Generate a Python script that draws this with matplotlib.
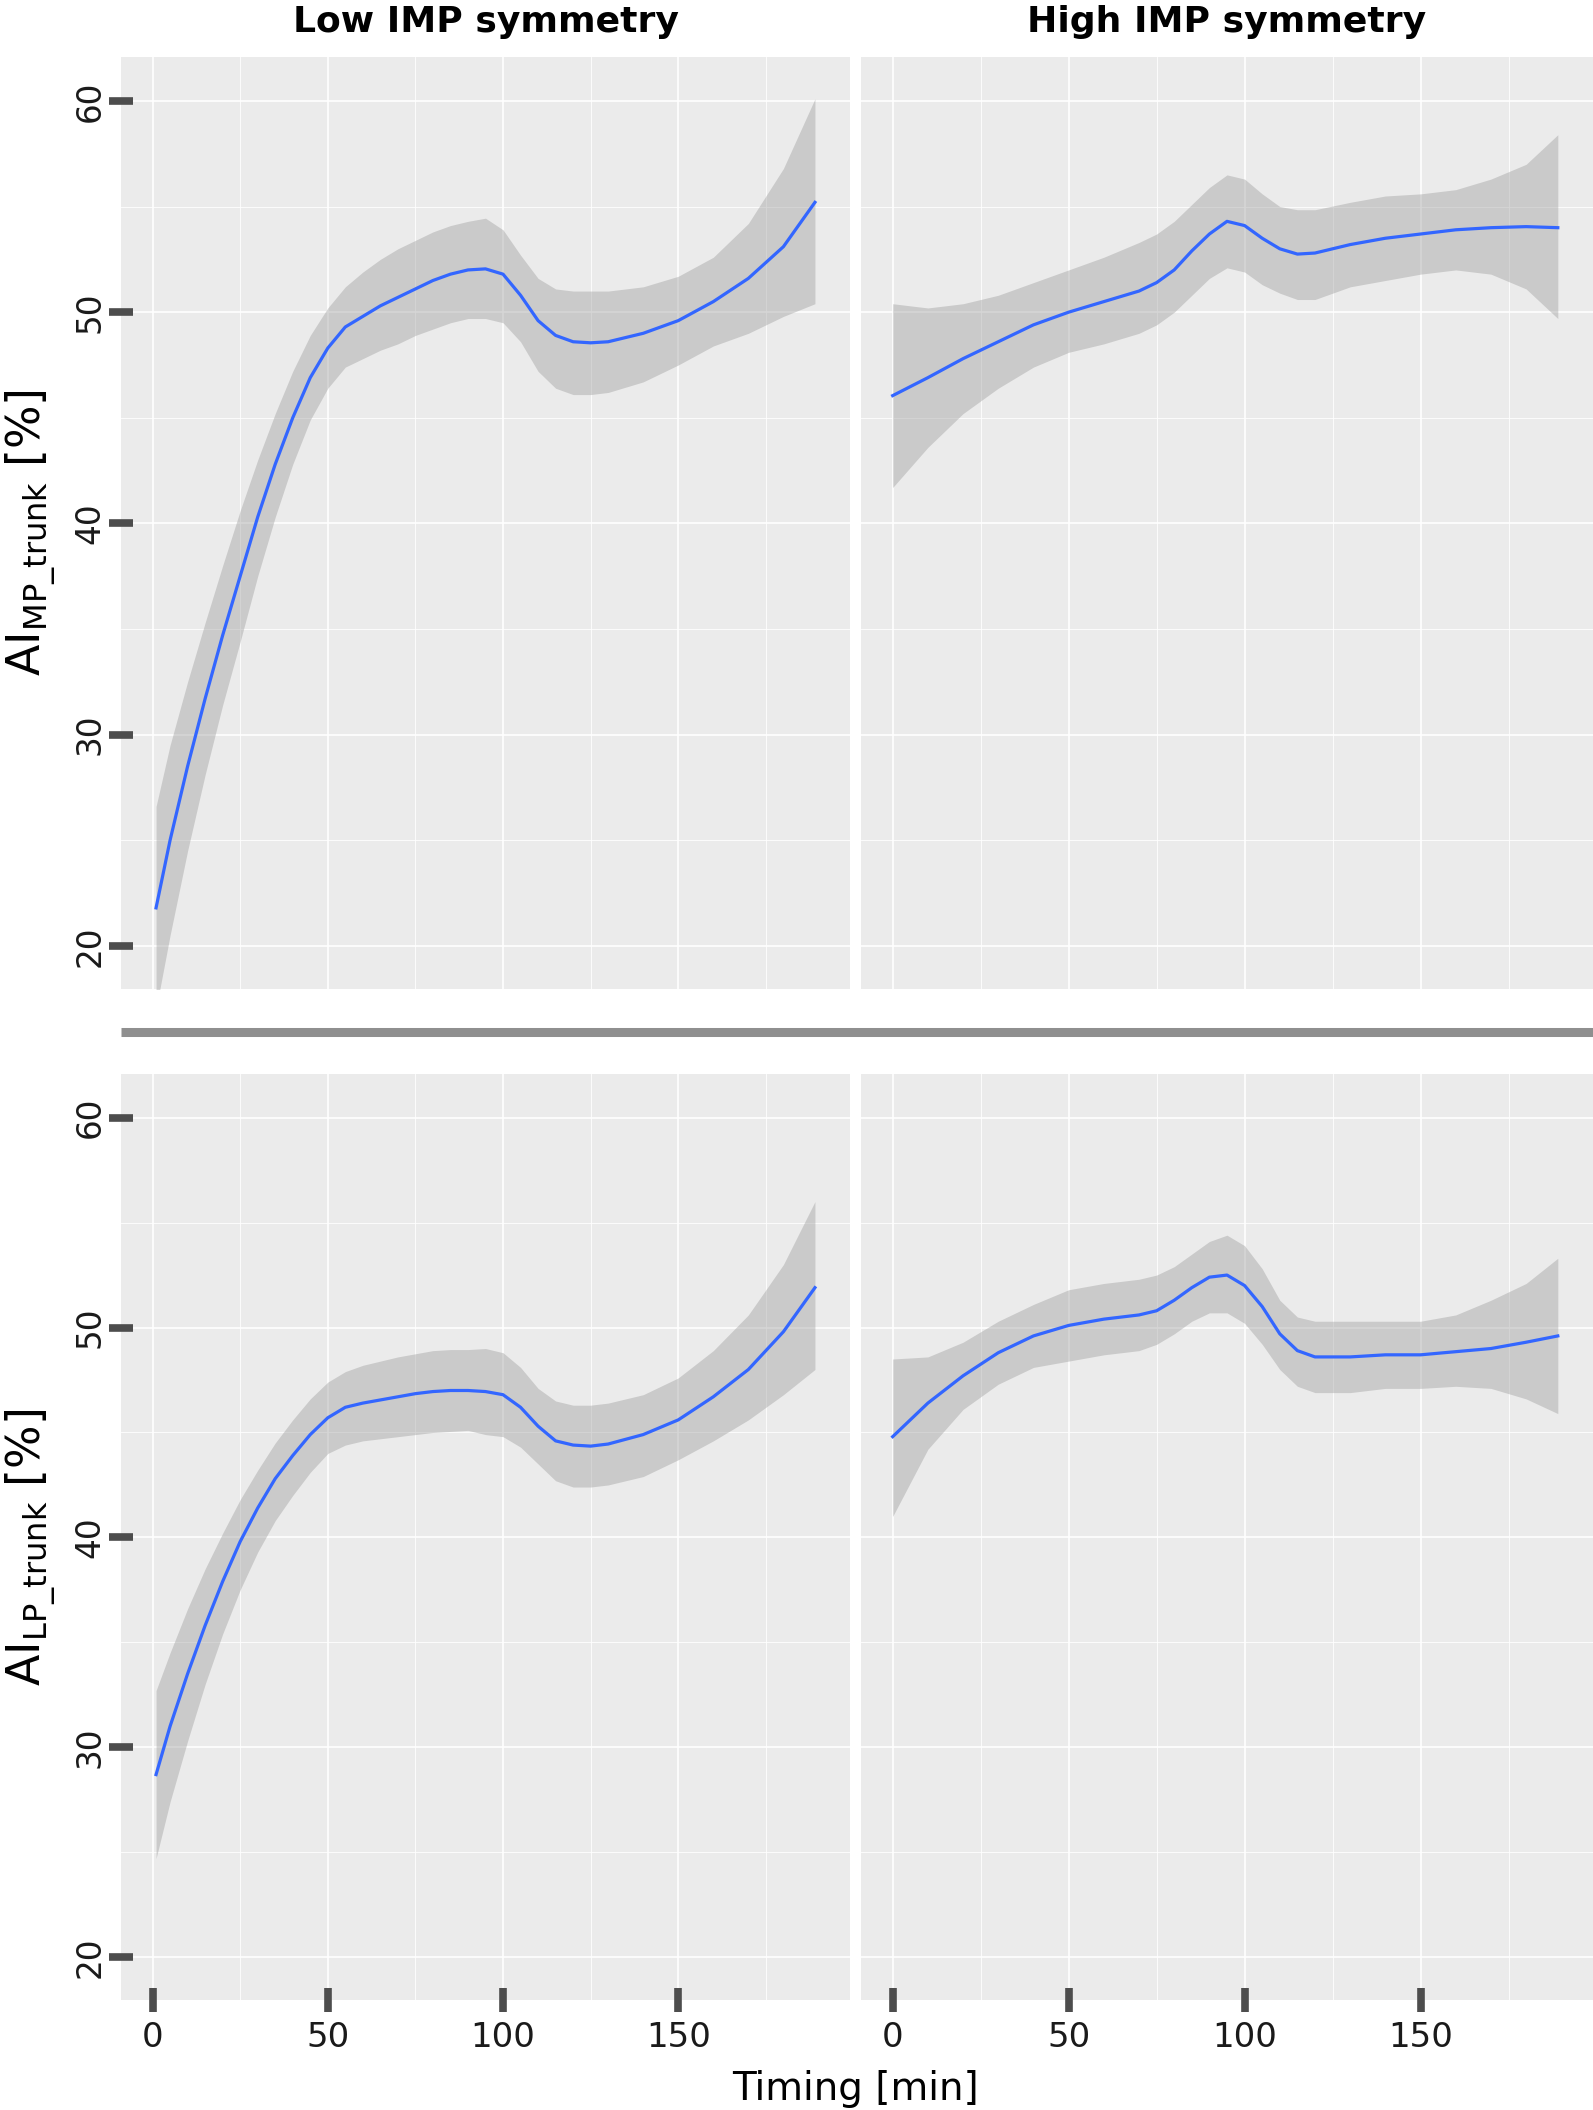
import matplotlib
matplotlib.use("Agg")
import matplotlib.pyplot as plt

# values: time [min], smooth fit, ribbon upper / lower
mp_low_t = [1, 5, 10, 15, 20, 25, 30, 35, 40, 45, 50, 55, 60, 65, 70, 75, 80, 85, 90, 95,
            100, 105, 110, 115, 120, 125, 130, 140, 150, 160, 170, 180, 189]
mp_low_fit = [21.8, 25.0, 28.5, 31.7, 34.7, 37.5, 40.3, 42.8, 45.0, 46.9, 48.3, 49.3, 49.8, 50.3,
              50.7, 51.1, 51.5, 51.8, 52.0, 52.05, 51.8, 50.8, 49.6, 48.9, 48.6, 48.55, 48.6, 49.0,
              49.6, 50.5, 51.6, 53.1, 55.2]
mp_low_hi = [26.6, 29.5, 32.5, 35.3, 38.0, 40.6, 43.0, 45.2, 47.2, 48.9, 50.2, 51.2, 51.9, 52.5,
             53.0, 53.4, 53.8, 54.1, 54.3, 54.45, 53.9, 52.7, 51.6, 51.1, 51.0, 51.0, 51.0, 51.2,
             51.7, 52.6, 54.2, 56.8, 60.1]
mp_low_lo = [17.0, 20.5, 24.5, 28.1, 31.4, 34.4, 37.5, 40.3, 42.8, 44.9, 46.4, 47.4, 47.8, 48.2,
             48.5, 48.9, 49.2, 49.5, 49.7, 49.7, 49.5, 48.6, 47.2, 46.4, 46.1, 46.1, 46.2, 46.7,
             47.5, 48.4, 49.0, 49.8, 50.4]

mp_high_t = [0, 10, 20, 30, 40, 50, 60, 70, 75, 80, 85, 90, 95, 100, 105, 110, 115, 120,
             130, 140, 150, 160, 170, 180, 189]
mp_high_fit = [46.05, 46.9, 47.8, 48.6, 49.4, 50.0, 50.5, 51.0, 51.4, 52.0, 52.9, 53.7, 54.3,
               54.1, 53.5, 53.0, 52.75, 52.8, 53.2, 53.5, 53.7, 53.9, 54.0, 54.05, 54.0]
mp_high_hi = [50.4, 50.2, 50.4, 50.8, 51.4, 52.0, 52.6, 53.3, 53.7, 54.3, 55.1, 55.9, 56.5,
              56.3, 55.6, 55.0, 54.85, 54.85, 55.2, 55.5, 55.6, 55.8, 56.3, 57.0, 58.4]
mp_high_lo = [41.7, 43.6, 45.2, 46.4, 47.4, 48.1, 48.5, 49.0, 49.4, 50.0, 50.8, 51.6, 52.1,
              51.9, 51.3, 50.9, 50.6, 50.6, 51.2, 51.5, 51.8, 52.0, 51.8, 51.1, 49.7]

lp_low_t = mp_low_t
lp_low_fit = [28.7, 31.0, 33.5, 35.8, 37.9, 39.8, 41.4, 42.8, 43.9, 44.9, 45.7, 46.2, 46.4, 46.55,
              46.7, 46.85, 46.95, 47.0, 47.0, 46.95, 46.8, 46.2, 45.3, 44.6, 44.4, 44.35, 44.45,
              44.9, 45.6, 46.7, 48.0, 49.8, 51.9]
lp_low_hi = [32.7, 34.5, 36.6, 38.5, 40.2, 41.8, 43.2, 44.5, 45.6, 46.6, 47.4, 47.9, 48.2, 48.4,
             48.6, 48.75, 48.9, 48.95, 48.95, 49.0, 48.8, 48.1, 47.1, 46.5, 46.3, 46.3, 46.4,
             46.8, 47.6, 48.9, 50.6, 53.0, 56.0]
lp_low_lo = [24.7, 27.4, 30.3, 33.0, 35.4, 37.5, 39.3, 40.8, 42.0, 43.1, 44.0, 44.4, 44.6, 44.7,
             44.8, 44.9, 45.0, 45.05, 45.1, 44.9, 44.8, 44.3, 43.5, 42.7, 42.4, 42.4, 42.5,
             42.9, 43.7, 44.6, 45.6, 46.8, 48.0]

lp_high_t = mp_high_t
lp_high_fit = [44.8, 46.4, 47.7, 48.8, 49.6, 50.1, 50.4, 50.6, 50.8, 51.3, 51.9, 52.4, 52.5,
               52.0, 51.0, 49.7, 48.9, 48.6, 48.6, 48.7, 48.7, 48.85, 49.0, 49.3, 49.6]
lp_high_hi = [48.5, 48.6, 49.3, 50.3, 51.1, 51.8, 52.1, 52.3, 52.5, 52.9, 53.5, 54.1, 54.4,
              53.9, 52.8, 51.3, 50.5, 50.3, 50.3, 50.3, 50.3, 50.6, 51.3, 52.1, 53.3]
lp_high_lo = [41.0, 44.2, 46.1, 47.3, 48.1, 48.4, 48.7, 48.9, 49.2, 49.7, 50.3, 50.7, 50.7,
              50.2, 49.2, 48.0, 47.2, 46.9, 46.9, 47.1, 47.1, 47.2, 47.1, 46.6, 45.9]

col_titles = ["Low IMP symmetry", "High IMP symmetry"]
row_labels = [r"AI$_{\mathregular{MP\_trunk}}$ [%]", r"AI$_{\mathregular{LP\_trunk}}$ [%]"]
x_label = "Timing [min]"
x_major = [0, 50, 100, 150]
x_minor = [25, 75, 125, 175]
y_major = [20, 30, 40, 50, 60]
y_minor = [25, 35, 45, 55]

W, H = 1593, 2110
plt.rcParams['font.family'] = 'DejaVu Sans'
plt.rcParams['mathtext.fontset'] = 'dejavusans'
fig = plt.figure(figsize=(W / 100, H / 100), dpi=100)


def rect(x0, x1, y0, y1):
    # pixel box (top-left origin) -> figure fraction
    return [x0 / W, 1 - y1 / H, (x1 - x0) / W, (y1 - y0) / H]


cols_px = [(121, 850), (861, 1593)]
rows_px = [(57, 989), (1074, 2000)]

panels = [
    [(mp_low_t, mp_low_fit, mp_low_hi, mp_low_lo), (mp_high_t, mp_high_fit, mp_high_hi, mp_high_lo)],
    [(lp_low_t, lp_low_fit, lp_low_hi, lp_low_lo), (lp_high_t, lp_high_fit, lp_high_hi, lp_high_lo)],
]

for r in range(2):
    for c in range(2):
        ax = fig.add_axes(rect(cols_px[c][0], cols_px[c][1], rows_px[r][0], rows_px[r][1]))
        t, fit, hi, lo = panels[r][c]
        ax.set_facecolor('#EBEBEB')
        ax.fill_between(t, lo, hi, color='#999999', alpha=0.4, linewidth=0, zorder=2)
        ax.plot(t, fit, color='#3366FF', linewidth=2.3, zorder=3,
                solid_joinstyle='round')

        ax.set_xlim(-9, 199)
        ax.set_ylim(17.96, 62.08)
        ax.set_xticks(x_major)
        ax.set_xticks(x_minor, minor=True)
        ax.set_yticks(y_major)
        ax.set_yticks(y_minor, minor=True)
        ax.grid(which='major', color='white', linewidth=1.2)
        ax.grid(which='minor', color='white', linewidth=0.6)
        ax.set_axisbelow(True)
        for s in ax.spines.values():
            s.set_visible(False)

        ax.tick_params(which='minor', length=0)
        ax.tick_params(which='major', direction='inout', length=17, width=5.5,
                       color='#4d4d4d', labelcolor='#1a1a1a')
        ax.tick_params(axis='x', labelsize=24.5, pad=6.5)
        ax.tick_params(axis='y', labelsize=23.5, pad=2, labelrotation=90)
        for lab in ax.get_yticklabels():
            lab.set_verticalalignment('center')

        if r == 0:
            ax.tick_params(axis='x', bottom=False, labelbottom=False)
            ax.set_title(col_titles[c], fontsize=26, fontweight='bold', pad=18)
        if c == 1:
            ax.tick_params(axis='y', left=False, labelleft=False)
        else:
            yc = (rows_px[r][0] + rows_px[r][1]) / 2
            fig.text(31 / W, 1 - (yc + 10) / H, row_labels[r], rotation=90,
                     ha='center', va='center', fontsize=33)

# grey divider between the two rows
fig.add_artist(plt.Line2D([121 / W, 1.0], [1 - 1031.5 / H] * 2, color='#8f8f8f',
                          linewidth=6.5, solid_capstyle='butt'))

fig.text(856 / W, 1 - 2100 / H, x_label, ha='center', va='baseline', fontsize=28)

fig.savefig('out.png', dpi=100)
